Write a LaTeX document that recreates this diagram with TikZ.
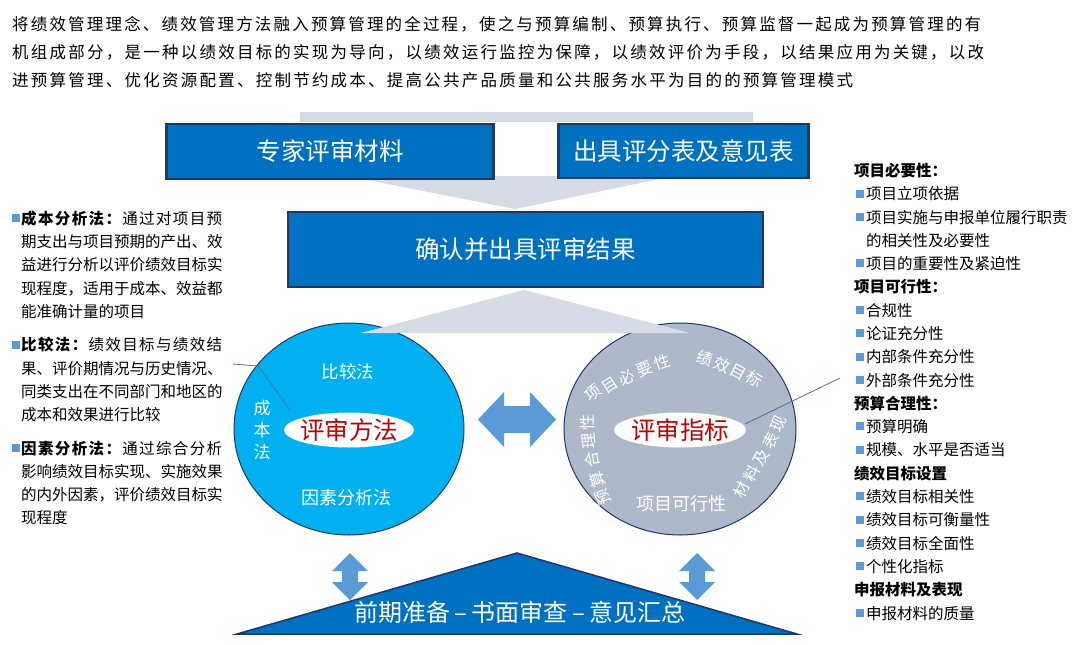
\documentclass[tikz,border=0pt]{standalone}
\usepackage{fontspec}
\setmainfont{Noto Sans CJK SC}
\usetikzlibrary{shapes.geometric}
\definecolor{boxblue}{HTML}{0070C0}
\definecolor{navy}{HTML}{1F3864}
\definecolor{palegray}{HTML}{D6DCE5}
\definecolor{cyanfill}{HTML}{00B0F0}
\definecolor{grayblue}{HTML}{ADB9CA}
\definecolor{arrblue}{HTML}{5B9BD5}
\definecolor{darkred}{HTML}{C00000}
\definecolor{linkc}{HTML}{4F7296}
\makeatletter
\def\spreadtxt#1{\spreadtxt@#1\@nil}
\def\spreadtxt@#1{\ifx#1\@nil\else#1\hskip0pt plus1fil\expandafter\spreadtxt@\fi}
\makeatother
\newcommand\jl[2]{\makebox[#1pt][s]{\spreadtxt{#2}\unskip}}
\newcommand\jlb[3]{\makebox[#1pt][s]{\bfseries\spreadtxt{#2}\mdseries\spreadtxt{#3}\unskip}}
\newcommand\bsq{\textcolor{arrblue}{\rule[2.2pt]{8pt}{8pt}}\hspace{1pt}}
\newcommand\bsqr{\textcolor{arrblue}{\rule[2.2pt]{8pt}{8pt}}\hspace{2pt}}
\tikzset{
  bx/.style={draw=navy, line width=2.5pt, fill=boxblue, text=white, inner sep=0pt, font=\fontsize{24.5}{26}\selectfont},
  para/.style={anchor=west, inner sep=0pt, font=\fontsize{15.5}{18}\selectfont},
  toptxt/.style={anchor=west, inner sep=0pt, font=\fontsize{16.5}{20}\selectfont},
  rcchar/.style={inner sep=0pt, text=white, font=\fontsize{16}{17}\selectfont},
  lctxt/.style={inner sep=0pt, text=white, font=\fontsize{17.5}{22}\selectfont},
  arr/.style={fill=arrblue, draw=none},
  oval/.style={ellipse, fill=white, inner sep=0pt, text=darkred, font=\fontsize{24.5}{26}\selectfont},
  link/.style={draw=linkc, line width=0.8pt},
  disc/.style={ellipse, draw=navy, line width=1pt, inner sep=0pt},
}
\begin{document}
\begin{tikzpicture}[x=1pt,y=-1pt]
\useasboundingbox (0,0) rectangle (1074,645);
\fill[white] (0,0) rectangle (1074,645);
% top paragraph
\node[toptxt] (t1) at (12,24.5) {\jl{969}{将绩效管理理念、绩效管理方法融入预算管理的全过程，使之与预算编制、预算执行、预算监督一起成为预算管理的有}};
\node[toptxt] (t2) at (12,52.5) {\jl{972}{机组成部分，是一种以绩效目标的实现为导向，以绩效运行监控为保障，以绩效评价为手段，以结果应用为关键，以改}};
\node[toptxt] (t3) at (12,80) {\jl{841}{进预算管理、优化资源配置、控制节约成本、提高公共产品质量和公共服务水平为目的的预算管理模式}};
% gray funnel
\fill[palegray] (300,112) rectangle (753,122);
\fill[palegray] (347,176) -- (674,176) -- (515,209) -- cycle;
% boxes
\node[bx, minimum width=327pt, minimum height=55pt] (b1) at (330,151.5) {专家评审材料};
\node[bx, minimum width=250pt, minimum height=54pt] (b2) at (683.5,151) {出具评分表及意见表};
\node[bx, minimum width=475pt, minimum height=75pt] (b3) at (525.5,249.5) {确认并出具评审结果};
% circles
\node[disc, fill=cyanfill, minimum width=230pt, minimum height=212pt] (c1) at (349,429) {};
\node[disc, fill=grayblue, minimum width=232pt, minimum height=212pt] (c2) at (680,429) {};
\fill[palegray] (524,290) -- (690,333) -- (361,333) -- cycle;
% ovals
\node[oval, minimum width=130pt, minimum height=35pt] (m1) at (349,430) {\makebox[0pt]{评审方法}};
\node[oval, minimum width=132pt, minimum height=35pt] (m2) at (680,430) {\makebox[0pt]{评审指标}};
% left circle texts
\node[lctxt] (cmp) at (348,372) {比较法};
\node[lctxt, font=\fontsize{18}{22}\selectfont] (fac) at (346,498) {因素分析法};
\node[lctxt, align=center, font=\fontsize{17}{22}\selectfont] (cbf) at (262,430) {成\\本\\法};
% right circle texts
\foreach \x/\y/\r/\c [count=\i] in {593/393/38/项, 610/385/33/目, 627/377/28/必, 645/369/23/要, 662/362/18/性}
  \node[rcchar, rotate=\r] (na\i) at (\x,\y) {\c};
\foreach \x/\y/\r/\c [count=\i] in {705/358/-18/绩, 722/365/-23/效, 738/372/-28/目, 755/379/-33/标}
  \node[rcchar, rotate=\r] (nb\i) at (\x,\y) {\c};
\foreach \x/\y/\r/\c [count=\i] in {742/490/64/材, 752/474/62/料, 762/458/60/及, 771/441/62/表, 779/424/66/现}
  \node[rcchar, rotate=\r] (nc\i) at (\x,\y) {\c};
\foreach \x/\y/\r/\c [count=\i] in {603/497/112/预, 597/479/106/算, 592/460/100/合, 589/441/95/理, 587/422/90/性}
  \node[rcchar, rotate=\r] (nd\i) at (\x,\y) {\c};
\node[rcchar, font=\fontsize{18}{20}\selectfont] (nfeas) at (681,504) {项目可行性};
% connectors
\coordinate (lk1a) at (233,364);
\coordinate (lk1b) at (258,366);
\coordinate (lk1c) at (290,410);
\draw[link] (lk1a) -- (lk1b) -- (lk1c);
\coordinate (lk2a) at (745,424);
\coordinate (lk2b) at (840,378);
\draw[link] (lk2a) -- (lk2b);
% horizontal double arrow
\fill[arr] (478,419.5) -- (504,392) -- (504,406) -- (530,406) -- (530,392) -- (556,419.5) -- (530,447) -- (530,433) -- (504,433) -- (504,447) -- cycle;
% bottom triangle
\draw[fill=boxblue, draw=navy, line width=1.5pt] (517,553) -- (797,634) -- (237,634) -- cycle;
\node[inner sep=0pt, text=white, font=\fontsize{24}{26}\selectfont] (bt) at (520,612) {前期准备\makebox[0.9em]{–}书面审查\makebox[0.9em]{–}意见汇总};
% vertical double arrows
\fill[arr] (350,553) -- (368,571) -- (358,571) -- (358,582) -- (368,582) -- (350,600) -- (332,582) -- (342,582) -- (342,571) -- (332,571) -- cycle;
\fill[arr] (697,553) -- (715,571) -- (705,571) -- (705,582) -- (715,582) -- (697,600) -- (679,582) -- (689,582) -- (689,571) -- (679,571) -- cycle;
% left text block
\node[para] (l1) at (12,218.3) {\bsq\jlb{201}{成本分析法：}{通过对项目预}};
\node[para] (l2) at (21,241.7) {\jl{201}{期支出与项目预期的产出、效}};
\node[para] (l3) at (21,265.1) {\jl{201}{益进行分析以评价绩效目标实}};
\node[para] (l4) at (21,288.5) {\jl{201}{现程度，适用于成本、效益都}};
\node[para] (l5) at (21,311.9) {能准确计量的项目};
\node[para] (l6) at (12,345) {\bsq\jlb{201}{比较法：}{绩效目标与绩效结}};
\node[para] (l7) at (21,368.3) {\jl{201}{果、评价期情况与历史情况、}};
\node[para] (l8) at (21,391.6) {\jl{201}{同类支出在不同部门和地区的}};
\node[para] (l9) at (21,414.9) {成本和效果进行比较};
\node[para] (l10) at (12,448.5) {\bsq\jlb{201}{因素分析法：}{通过综合分析}};
\node[para] (l11) at (21,471.8) {\jl{201}{影响绩效目标实现、实施效果}};
\node[para] (l12) at (21,495.1) {\jl{201}{的内外因素，评价绩效目标实}};
\node[para] (l13) at (21,517.5) {现程度};
% right text block
\node[para] (r1) at (854,170.5) {\bfseries 项目必要性：};
\node[para] (r2) at (856,193.8) {\bsqr 项目立项依据};
\node[para] (r3) at (856,217.1) {\bsqr 项目实施与申报单位履行职责};
\node[para] (r4) at (866,240.4) {的相关性及必要性};
\node[para] (r5) at (856,263.7) {\bsqr 项目的重要性及紧迫性};
\node[para] (r6) at (854,287) {\bfseries 项目可行性：};
\node[para] (r7) at (856,310.3) {\bsqr 合规性};
\node[para] (r8) at (856,333.6) {\bsqr 论证充分性};
\node[para] (r9) at (856,356.9) {\bsqr 内部条件充分性};
\node[para] (r10) at (856,380.2) {\bsqr 外部条件充分性};
\node[para] (r11) at (854,403.5) {\bfseries 预算合理性：};
\node[para] (r12) at (856,426.8) {\bsqr 预算明确};
\node[para] (r13) at (856,450.1) {\bsqr 规模、水平是否适当};
\node[para] (r14) at (854,473.4) {\bfseries 绩效目标设置};
\node[para] (r15) at (856,496.7) {\bsqr 绩效目标相关性};
\node[para] (r16) at (856,520) {\bsqr 绩效目标可衡量性};
\node[para] (r17) at (856,543.3) {\bsqr 绩效目标全面性};
\node[para] (r18) at (856,566.6) {\bsqr 个性化指标};
\node[para] (r19) at (854,589.9) {\bfseries 申报材料及表现};
\node[para] (r20) at (856,613.2) {\bsqr 申报材料的质量};
\end{tikzpicture}
\end{document}
